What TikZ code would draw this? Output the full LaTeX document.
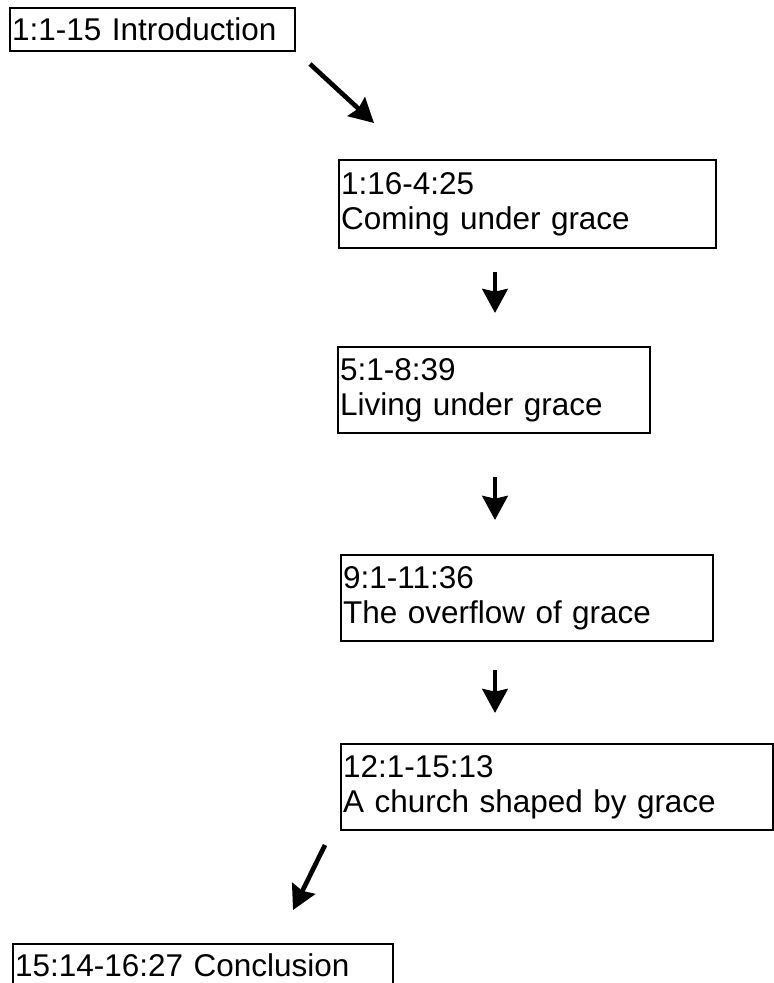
\documentclass[tikz,border=0pt]{standalone}
\usepackage{fontspec}
\setmainfont{Liberation Sans}
\usetikzlibrary{arrows.meta}

\begin{document}
\begin{tikzpicture}[x = 0.75pt, y = -0.75pt,
  passage/.style = {draw, line width = 1.8pt, anchor = north west, align = left, inner xsep = 1.5pt, inner ysep = 0pt, font = \fontsize{23.6}{26}\selectfont},
  pointer/.style = {line width = 3.5pt, -{Stealth[length = 18pt, width = 19pt, inset = 2pt]}}]
\useasboundingbox (0, 0) rectangle (774, 983);
\node[passage, text width = 210.75pt, minimum height = 32.25pt](x1) at (9, 7){1:1-15 Introduction};
\node[passage, text width = 279.75pt, minimum height = 66pt](x2) at (338, 159){1:16-4:25\\Coming under grace};
\node[passage, text width = 231pt, minimum height = 64.5pt](x3) at (337, 346){5:1-8:39\\Living under grace};
\node[passage, text width = 276pt, minimum height = 64.5pt](x4) at (340, 554){9:1-11:36\\The overflow of grace};
\node[passage, text width = 321pt, minimum height = 64.5pt](x5) at (340, 743){12:1-15:13\\A church shaped by grace};
\node[passage, text width = 282pt, minimum height = 32.25pt](x6) at (12, 943){15:14-16:27 Conclusion};
% free arrows between the boxes
\coordinate (s1) at (310, 64);  \coordinate (e1) at (374, 123);
\coordinate (s2) at (495, 272); \coordinate (e2) at (495, 313);
\coordinate (s3) at (495, 477); \coordinate (e3) at (495, 520);
\coordinate (s4) at (495, 670); \coordinate (e4) at (495, 713);
\coordinate (s5) at (325, 845); \coordinate (e5) at (293, 910);
\draw[pointer] (s1) -- (e1);
\draw[pointer] (s2) -- (e2);
\draw[pointer] (s3) -- (e3);
\draw[pointer] (s4) -- (e4);
\draw[pointer] (s5) -- (e5);
\end{tikzpicture}
\end{document}
